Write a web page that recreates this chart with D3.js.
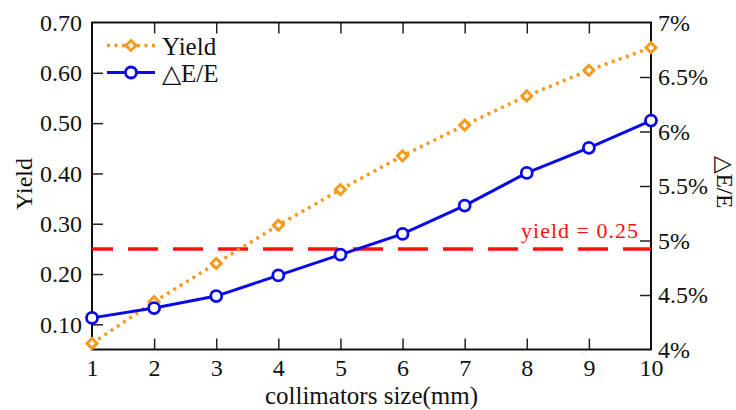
<!DOCTYPE html>
<html>
<head>
<meta charset="utf-8">
<script src="https://cdn.jsdelivr.net/npm/d3@7"></script>
<style>
  body { margin: 0; background: #fff; }
</style>
</head>
<body>
<div id="chart"></div>
<script>
/* Yield and energy spread vs collimator size */

const sizes = [1, 2, 3, 4, 5, 6, 7, 8, 9, 10];
const yieldVals = [0.062, 0.145, 0.221, 0.297, 0.368, 0.435, 0.496, 0.554, 0.605, 0.650];
const spreadVals = [4.29, 4.38, 4.49, 4.68, 4.87, 5.06, 5.32, 5.62, 5.85, 6.10];
const yieldTicks = [0.10, 0.20, 0.30, 0.40, 0.50, 0.60, 0.70];
const spreadTicks = [4, 4.5, 5, 5.5, 6, 6.5, 7];
const yieldLimit = 0.25;

const width = 736,
      height = 410,
      margin = ({top: 22.5, right: 85, bottom: 60.5, left: 92});

const serif = "'Liberation Serif', 'Times New Roman', serif";
const orange = "#f59a1e",
      blue = "#0a0ae8",
      red = "#ff1010";

let svg = d3.select("#chart")
            .append("svg")
            .attr("width", width)
            .attr("height", height)
            .style("font-family", serif);

let x = d3.scaleLinear()
          .domain([1, 10])
          .range([margin.left, width - margin.right]);

let yL = d3.scaleLinear()
           .domain([0.05, 0.70])
           .range([height - margin.bottom, margin.top]);

let yR = d3.scaleLinear()
           .domain([4, 7])
           .range([height - margin.bottom, margin.top]);

/* axes, ticks point inside */
const tickLen = 11;

const styleAxis = (g, hideEnds) => {
    g.attr("font-family", serif).attr("font-size", 24);
    g.select(".domain").remove();
    g.selectAll(".tick text")
     .attr("fill", "#111")
     .style("font-family", serif)
     .style("font-size", "24px");
    g.selectAll(".tick line").attr("stroke", "#222").attr("stroke-width", 1.5);
    if (hideEnds) g.selectAll(".tick line").filter(hideEnds).remove();
};

svg.append("g")
   .attr("transform", `translate(0,${height - margin.bottom})`)
   .call(d3.axisBottom(x).tickValues(sizes).tickFormat(d3.format("d"))
           .tickSizeInner(-tickLen).tickPadding(9))
   .call(g => styleAxis(g, d => d === 1 || d === 10));

svg.append("g")
   .attr("transform", `translate(0,${margin.top})`)
   .call(d3.axisTop(x).tickValues(sizes.slice(1, -1)).tickFormat("")
           .tickSizeInner(-tickLen))
   .call(g => styleAxis(g));

svg.append("g")
   .attr("transform", `translate(${margin.left},0)`)
   .call(d3.axisLeft(yL).tickValues(yieldTicks).tickFormat(d3.format(".2f"))
           .tickSizeInner(-tickLen).tickPadding(10))
   .call(g => styleAxis(g, d => d === 0.70));

svg.append("g")
   .attr("transform", `translate(${width - margin.right},0)`)
   .call(d3.axisRight(yR).tickValues(spreadTicks).tickFormat(d => d + "%")
           .tickSizeInner(-tickLen).tickPadding(7))
   .call(g => styleAxis(g, d => d === 4 || d === 7));

/* frame */
svg.append("rect")
   .attr("x", margin.left)
   .attr("y", margin.top)
   .attr("width", width - margin.left - margin.right)
   .attr("height", height - margin.top - margin.bottom)
   .attr("fill", "none")
   .attr("stroke", "#111")
   .attr("stroke-width", 2);

/* threshold line */
svg.append("line")
   .attr("x1", margin.left)
   .attr("x2", width - margin.right)
   .attr("y1", yL(yieldLimit))
   .attr("y2", yL(yieldLimit))
   .attr("stroke", red)
   .attr("stroke-width", 3.5)
   .attr("stroke-dasharray", "30,15")
   .attr("stroke-dashoffset", 9);

svg.append("text")
   .attr("x", 521)
   .attr("y", yL(yieldLimit) - 11)
   .attr("textLength", 117)
   .attr("lengthAdjust", "spacing")
   .attr("fill", red)
   .style("font-size", "22px")
   .text("yield = 0.25");

/* series */
const lineL = d3.line().x((d, i) => x(sizes[i])).y(d => yL(d));
const lineR = d3.line().x((d, i) => x(sizes[i])).y(d => yR(d));

svg.append("path")
   .datum(yieldVals)
   .attr("d", lineL)
   .attr("fill", "none")
   .attr("stroke", orange)
   .attr("stroke-width", 3.5)
   .attr("stroke-dasharray", "3,4.5");

svg.append("path")
   .datum(spreadVals)
   .attr("d", lineR)
   .attr("fill", "none")
   .attr("stroke", blue)
   .attr("stroke-width", 3);

const diamond = d3.symbol().type(d3.symbolSquare).size(50);

svg.selectAll(".dia")
   .data(yieldVals)
   .join("path")
   .attr("class", "dia")
   .attr("d", diamond)
   .attr("transform", (d, i) => `translate(${x(sizes[i])},${yL(d)}) rotate(45)`)
   .attr("fill", "white")
   .attr("stroke", orange)
   .attr("stroke-width", 3);

svg.selectAll(".circ")
   .data(spreadVals)
   .join("circle")
   .attr("class", "circ")
   .attr("cx", (d, i) => x(sizes[i]))
   .attr("cy", d => yR(d))
   .attr("r", 5.5)
   .attr("fill", "white")
   .attr("stroke", blue)
   .attr("stroke-width", 2.8);

/* legend */
const legend = [
    {name: "Yield", color: orange, dash: "3,4.5", mark: "dia", y: 45.5},
    {name: "\u25B3E/E", color: blue, dash: null, mark: "circ", y: 72.5}
];

let lg = svg.selectAll(".lg")
            .data(legend)
            .join("g")
            .attr("class", "lg");

lg.append("line")
  .attr("x1", 107).attr("x2", 155)
  .attr("y1", d => d.y).attr("y2", d => d.y)
  .attr("stroke", d => d.color)
  .attr("stroke-width", d => d.dash ? 3.5 : 3)
  .attr("stroke-dasharray", d => d.dash);

lg.filter(d => d.mark === "dia")
  .append("path")
  .attr("d", diamond)
  .attr("transform", d => `translate(131,${d.y}) rotate(45)`)
  .attr("fill", "white")
  .attr("stroke", d => d.color)
  .attr("stroke-width", 3);

lg.filter(d => d.mark === "circ")
  .append("circle")
  .attr("cx", 131).attr("cy", d => d.y).attr("r", 5.5)
  .attr("fill", "white")
  .attr("stroke", d => d.color)
  .attr("stroke-width", 2.8);

lg.append("text")
  .attr("x", 162)
  .attr("y", d => d.y + 9)
  .attr("fill", "#111")
  .style("font-size", "25px")
  .text(d => d.name);

/* axis titles */
svg.append("text")
   .attr("x", (margin.left + width - margin.right) / 2)
   .attr("y", 404)
   .attr("text-anchor", "middle")
   .attr("fill", "#111")
   .style("font-size", "25px")
   .text("collimators size(mm)");

svg.append("text")
   .attr("transform", `translate(32,184) rotate(-90)`)
   .attr("text-anchor", "middle")
   .attr("fill", "#111")
   .style("font-size", "24px")
   .text("Yield");

svg.append("text")
   .attr("transform", `translate(717,182) rotate(90)`)
   .attr("text-anchor", "middle")
   .attr("fill", "#111")
   .style("font-size", "23px")
   .text("\u25B3E/E");
</script>
</body>
</html>
